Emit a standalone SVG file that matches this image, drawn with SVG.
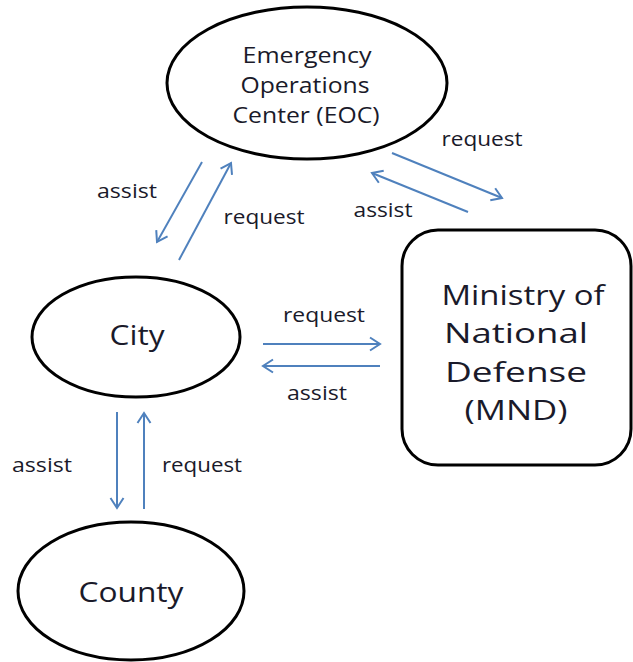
<svg xmlns="http://www.w3.org/2000/svg" width="633" height="662" viewBox="0 0 633 662">
<style>
.node{fill:#fff;stroke:#000;stroke-width:3}
.nt{font-family:"Open Sans",Lato,"Liberation Sans",sans-serif;fill:#1a1a2a;text-anchor:middle}
.big{font-size:28px}
.eoc{font-size:22.5px}
.lbl{font-family:"Open Sans",Lato,"Liberation Sans",sans-serif;font-size:20px;fill:#1a1a2a;text-anchor:middle}
.arr{stroke:#4f81bd;stroke-width:2;fill:none;marker-end:url(#ah)}
</style>
<defs>
<marker id="ah" markerUnits="userSpaceOnUse" viewBox="-12 -8 14 16" refX="0" refY="0" markerWidth="14" markerHeight="16" orient="auto">
<path d="M-10,-6.5 L0,0 L-10,6.5" fill="none" stroke="#4f81bd" stroke-width="2" stroke-linejoin="miter"/>
</marker>
</defs>
<rect width="633" height="662" fill="#fff"/>
<g id="eoc">
<ellipse class="node" cx="307" cy="83" rx="140" ry="76"/>
<text class="nt eoc" x="307" y="63" textLength="129" lengthAdjust="spacingAndGlyphs">Emergency</text>
<text class="nt eoc" x="305" y="93" textLength="129" lengthAdjust="spacingAndGlyphs">Operations</text>
<text class="nt eoc" x="306" y="123" textLength="147" lengthAdjust="spacingAndGlyphs">Center (EOC)</text>
</g>
<g id="city">
<ellipse class="node" cx="136" cy="337" rx="104" ry="60"/>
<text class="nt big" x="137" y="345" textLength="55" lengthAdjust="spacingAndGlyphs">City</text>
</g>
<g id="county">
<ellipse class="node" cx="131" cy="591" rx="113" ry="69"/>
<text class="nt big" x="131" y="602" textLength="105" lengthAdjust="spacingAndGlyphs">County</text>
</g>
<g id="mnd">
<rect class="node" x="402" y="230" width="229" height="235" rx="36" ry="36"/>
<text class="nt big" x="523" y="305" textLength="163" lengthAdjust="spacingAndGlyphs">Ministry of</text>
<text class="nt big" x="516" y="343" textLength="144" lengthAdjust="spacingAndGlyphs">National</text>
<text class="nt big" x="516" y="382" textLength="142" lengthAdjust="spacingAndGlyphs">Defense</text>
<text class="nt big" x="516" y="420" textLength="103" lengthAdjust="spacingAndGlyphs">(MND)</text>
</g>
<g id="connectors">
<line class="arr" x1="202" y1="162" x2="157" y2="242"/>
<line class="arr" x1="179" y1="260" x2="231" y2="163"/>
<line class="arr" x1="392" y1="153" x2="502" y2="198"/>
<line class="arr" x1="468" y1="212" x2="372" y2="173"/>
<line class="arr" x1="263" y1="344" x2="380" y2="344"/>
<line class="arr" x1="380" y1="366" x2="263" y2="366"/>
<line class="arr" x1="117" y1="412" x2="117" y2="508"/>
<line class="arr" x1="144" y1="509" x2="144" y2="413"/>
<text class="lbl" x="127" y="198" textLength="60" lengthAdjust="spacingAndGlyphs">assist</text>
<text class="lbl" x="264" y="224" textLength="81" lengthAdjust="spacingAndGlyphs">request</text>
<text class="lbl" x="482" y="146" textLength="81" lengthAdjust="spacingAndGlyphs">request</text>
<text class="lbl" x="383" y="217" textLength="59" lengthAdjust="spacingAndGlyphs">assist</text>
<text class="lbl" x="324" y="322" textLength="82" lengthAdjust="spacingAndGlyphs">request</text>
<text class="lbl" x="317" y="400" textLength="60" lengthAdjust="spacingAndGlyphs">assist</text>
<text class="lbl" x="42" y="472" textLength="60" lengthAdjust="spacingAndGlyphs">assist</text>
<text class="lbl" x="202" y="472" textLength="80" lengthAdjust="spacingAndGlyphs">request</text>
</g>
</svg>
